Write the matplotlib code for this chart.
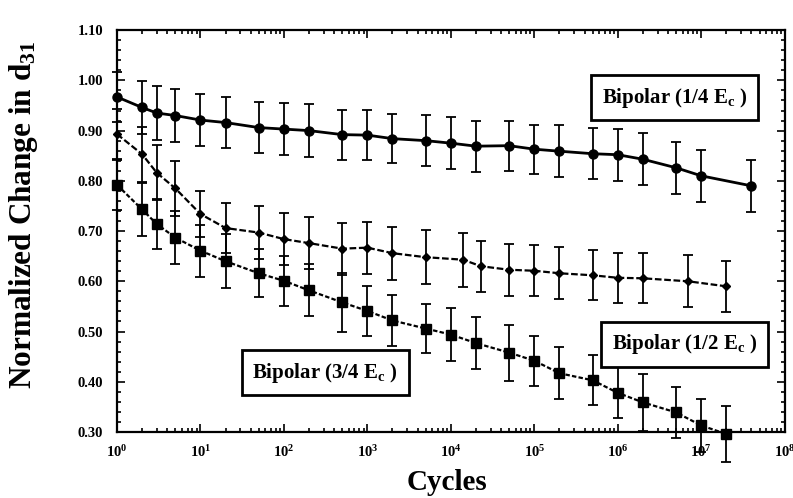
import numpy as np
import matplotlib
matplotlib.use('Agg')
import matplotlib.pyplot as plt
from matplotlib.ticker import MultipleLocator, LogLocator, NullFormatter, FormatStrFormatter

plt.rcParams['font.family'] = 'Liberation Serif'
plt.rcParams['font.weight'] = 'bold'
plt.rcParams['axes.labelweight'] = 'bold'
plt.rcParams['mathtext.fontset'] = 'custom'
plt.rcParams['mathtext.rm'] = 'Liberation Serif:bold'
plt.rcParams['mathtext.bf'] = 'Liberation Serif:bold'
plt.rcParams['mathtext.it'] = 'Liberation Serif:bold'
plt.rcParams['mathtext.default'] = 'bf'

# 1/4 Ec bipolar cycling
q_cycles = [1, 2, 3, 5, 10, 20, 50, 100, 200, 500, 1e3, 2e3, 5e3, 1e4, 2e4, 5e4,
            1e5, 2e5, 5e5, 1e6, 2e6, 5e6, 1e7, 4e7]
q_d31 = [0.967, 0.946, 0.935, 0.930, 0.921, 0.916, 0.906, 0.903, 0.900, 0.892, 0.891, 0.884,
         0.880, 0.875, 0.869, 0.870, 0.863, 0.859, 0.854, 0.852, 0.843, 0.826, 0.810, 0.790]
q_err = [0.050, 0.052, 0.053, 0.052, 0.051, 0.050, 0.050, 0.052, 0.052, 0.050, 0.050, 0.049,
         0.051, 0.052, 0.051, 0.050, 0.049, 0.052, 0.051, 0.052, 0.052, 0.052, 0.052, 0.052]

# 1/2 Ec
h_cycles = [1, 2, 3, 5, 10, 20, 50, 100, 200, 500, 1e3, 2e3, 5e3, 1.4e4, 2.3e4, 5e4,
            1e5, 2e5, 5e5, 1e6, 2e6, 7e6, 2e7]
h_d31 = [0.893, 0.853, 0.816, 0.785, 0.734, 0.706, 0.697, 0.684, 0.676, 0.665, 0.667, 0.656,
         0.648, 0.643, 0.630, 0.623, 0.621, 0.616, 0.612, 0.607, 0.606, 0.600, 0.590]
h_err = [0.050, 0.055, 0.055, 0.055, 0.046, 0.050, 0.052, 0.052, 0.052, 0.052, 0.052, 0.053,
         0.054, 0.054, 0.051, 0.052, 0.051, 0.052, 0.050, 0.050, 0.050, 0.052, 0.051]

# 3/4 Ec
t_cycles = [1, 2, 3, 5, 10, 20, 50, 100, 200, 500, 1e3, 2e3, 5e3, 1e4, 2e4, 5e4,
            1e5, 2e5, 5e5, 1e6, 2e6, 5e6, 1e7, 2e7]
t_d31 = [0.792, 0.743, 0.714, 0.687, 0.661, 0.640, 0.616, 0.601, 0.582, 0.558, 0.541, 0.522,
         0.506, 0.494, 0.477, 0.458, 0.442, 0.417, 0.403, 0.378, 0.359, 0.339, 0.313, 0.296]
t_err = [0.050, 0.052, 0.050, 0.052, 0.052, 0.054, 0.048, 0.050, 0.052, 0.058, 0.050, 0.050,
         0.048, 0.052, 0.051, 0.056, 0.050, 0.052, 0.050, 0.051, 0.056, 0.050, 0.052, 0.055]

fig = plt.figure(figsize=(7.93, 4.98), dpi=100)
ax = fig.add_axes([0.1475, 0.1325, 0.842, 0.807])

def plot_series(x, y, e, marker, ms, ls, lw):
    res = ax.errorbar(x, y, yerr=e, color='k', marker=marker, ms=ms, ls=ls, lw=lw,
                      elinewidth=1.3, capsize=3.5, capthick=1.3, zorder=3)
    for art in res.get_children():
        art.set_clip_on(False)
    return res

plot_series(q_cycles, q_d31, q_err, 'o', 6.5, '-', 2.0)
plot_series(h_cycles, h_d31, h_err, 'D', 4, (0, (3, 1.2)), 1.6)
plot_series(t_cycles, t_d31, t_err, 's', 7, (0, (2, 1)), 1.6)

ax.set_xscale('log')
ax.set_xlim(1, 1e8)
ax.set_ylim(0.30, 1.10)

ax.set_xticks(10.0 ** np.arange(9))
ax.set_xticklabels([r'10$^{%d}$' % i for i in range(9)])
ax.xaxis.set_minor_locator(LogLocator(base=10, subs=np.arange(2, 10)))
ax.xaxis.set_minor_formatter(NullFormatter())
ax.yaxis.set_major_locator(MultipleLocator(0.1))
ax.yaxis.set_minor_locator(MultipleLocator(0.02))
ax.yaxis.set_major_formatter(FormatStrFormatter('%.2f'))

ax.tick_params(which='both', direction='in', top=True, right=True, width=1.2)
ax.tick_params(which='major', length=6, labelsize=10.5)
ax.tick_params(axis='y', which='major', pad=10)
ax.tick_params(axis='x', which='major', pad=9)
ax.tick_params(which='minor', length=3)
for lab in ax.get_xticklabels() + ax.get_yticklabels():
    lab.set_fontweight('bold')
for sp in ax.spines.values():
    sp.set_linewidth(1.6)

ax.set_ylabel(r'Normalized Change in d$_{31}$', fontsize=22.5)
ax.yaxis.set_label_coords(-0.116, 0.54)
ax.set_xlabel('Cycles', fontsize=21)
ax.xaxis.set_label_coords(0.494, -0.092)

box = dict(boxstyle='square,pad=0.5', fc='white', ec='k', lw=2)
ax.text(0.835, 0.832, r'Bipolar (1/4 E$_{c}$ )', transform=ax.transAxes, ha='center',
        va='center', fontsize=15, bbox=box)
ax.text(0.850, 0.218, r'Bipolar (1/2 E$_{c}$ )', transform=ax.transAxes, ha='center',
        va='center', fontsize=15, bbox=box)
ax.text(0.312, 0.148, r'Bipolar (3/4 E$_{c}$ )', transform=ax.transAxes, ha='center',
        va='center', fontsize=15, bbox=box)

fig.savefig('out.png', dpi=100)
